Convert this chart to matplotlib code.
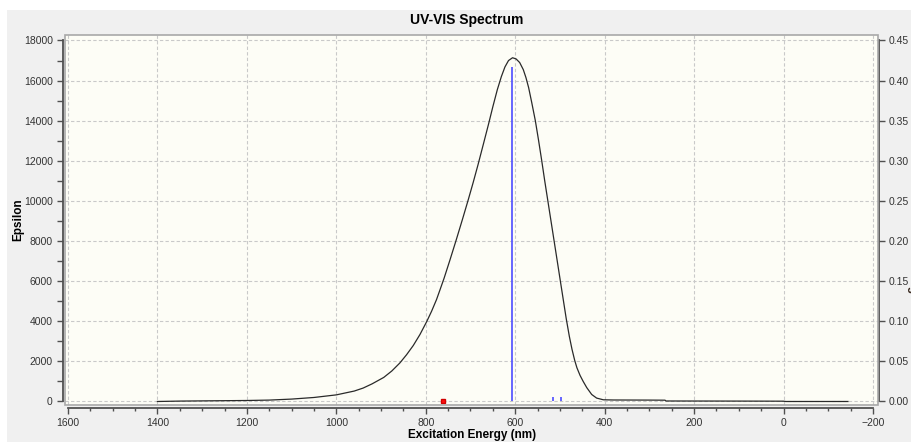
import matplotlib
matplotlib.use("Agg")
import matplotlib.pyplot as plt
from matplotlib.patches import Rectangle
from matplotlib.ticker import MultipleLocator, FormatStrFormatter

plt.rcParams['font.family'] = ['Liberation Sans Narrow', 'Liberation Sans', 'DejaVu Sans']

# spectrum (wavelength nm, epsilon)
wavelength = [1400, 1350, 1300, 1250, 1200, 1150, 1100, 1050, 1000, 960, 940, 920,
              894, 876, 858, 843, 828, 813, 798, 787, 776, 768, 759, 746, 732, 718,
              705, 694, 683, 671, 660, 650, 640, 631, 623, 615, 606, 598, 590, 582,
              576, 570, 563, 555, 548, 541, 534, 527, 520, 513, 506, 500, 493, 486,
              479, 473, 467, 462, 455, 448, 440, 429, 418, 403, 380, 300, 265, 263,
              100, 0, -5, -144]
epsilon = [0, 20, 30, 40, 50, 70, 120, 200, 330, 520, 670, 880,
           1200, 1520, 1920, 2330, 2790, 3340, 3980, 4500, 5080, 5580, 6150, 7050, 8050, 9080,
           10060, 10920, 11820, 12850, 13800, 14700, 15550, 16200, 16680, 17000, 17140, 17080, 16900, 16550,
           16150, 15650, 14900, 14000, 13050, 12050, 11000, 10000, 9000, 8000, 7000, 6140, 5140, 4140,
           3250, 2600, 2050, 1680, 1300, 1000, 690, 350, 170, 85, 75, 70, 65, 25,
           20, 15, 0, 0]

# excited states (wavelength nm, oscillator strength)
stick_nm = [607, 515, 498, 697]
stick_f = [0.417, 0.006, 0.005, 0.001]
selected_nm = [762]
selected_f = [0.0]

fig = plt.figure(figsize=(9.12, 4.42), dpi=100, facecolor='white')
fig.add_artist(Rectangle((7/912, 0), 1, 1 - 10/442, transform=fig.transFigure,
                         facecolor='#f0f0f0', edgecolor='none', zorder=-10))

ax = fig.add_axes([65/912, 37/442, 813/912, 370/442])
ax.set_facecolor('#fdfdf6')
ax.set_xlim(1606.7, -211.2)
ax.set_ylim(-175, 18274)

ax.plot(wavelength, epsilon, color='#2a2a2a', lw=0.9, zorder=3)

ax.xaxis.set_major_locator(MultipleLocator(200))
ax.xaxis.set_minor_locator(MultipleLocator(50))
ax.yaxis.set_major_locator(MultipleLocator(2000))
ax.yaxis.set_minor_locator(MultipleLocator(1000))
ax.grid(True, which='major', color='#c9c9c9', lw=0.8, linestyle=(0, (3, 2)))

for s in ['top', 'right']:
    ax.spines[s].set_visible(False)
ax.spines['left'].set_position(('outward', 1.5))
ax.spines['left'].set_bounds(0, 18000)
ax.spines['bottom'].set_position(('outward', 2.5))
ax.spines['bottom'].set_bounds(-200, 1600)
for s in ['left', 'bottom']:
    ax.spines[s].set_color('#505050')
    ax.spines[s].set_linewidth(1.3)

ax.tick_params(axis='y', which='both', direction='out', length=4.3, width=1,
               color='#505050', labelsize=7.5, labelcolor='#333333', pad=3)
ax.tick_params(axis='x', which='major', direction='out', length=4.5, width=1,
               color='#505050', labelsize=7.5, labelcolor='#333333', pad=2)
ax.tick_params(axis='x', which='minor', direction='out', length=2.5, width=1,
               color='#505050')

ax2 = ax.twinx()
ax2.set_ylim(-175/40000, 18274/40000)
ax2.vlines(stick_nm, 0, stick_f, color='#5a5aff', lw=1.3, zorder=4)
ax2.plot(selected_nm, selected_f, 's', color='#ff1010', mec='#d00000', ms=3.2, zorder=5,
         clip_on=False)
for s in ['top', 'left', 'bottom']:
    ax2.spines[s].set_visible(False)
ax2.spines['right'].set_position(('outward', 0.8))
ax2.spines['right'].set_bounds(0, 0.45)
ax2.spines['right'].set_color('#505050')
ax2.spines['right'].set_linewidth(1.3)
ax2.yaxis.set_major_locator(MultipleLocator(0.05))
ax2.yaxis.set_major_formatter(FormatStrFormatter('%.2f'))
ax2.tick_params(axis='y', direction='out', length=4.5, width=1, color='#505050',
                labelsize=7.5, labelcolor='#333333', pad=2)

# plot box frame
ax2.add_patch(Rectangle((0, 0), 1, 1, transform=ax2.transAxes, fill=False,
                        edgecolor='#a8a8a8', lw=1.2, zorder=6, clip_on=False))

fig.text(467/912, 1 - 20/442, 'UV-VIS Spectrum', ha='center', va='center',
         fontsize=10, fontweight='bold', family=['Liberation Sans', 'DejaVu Sans'])
fig.text(18/912, 1 - 220/442, 'Epsilon', ha='center', va='center', rotation=90,
         fontsize=8.5, fontweight='bold', family=['Liberation Sans', 'DejaVu Sans'])
fig.text(472/912, 1 - 435/442, 'Excitation Energy (nm)', ha='center', va='center',
         fontsize=8.5, fontweight='bold', family=['Liberation Sans', 'DejaVu Sans'])
# right-hand label sits mostly past the figure edge, as in the original
fig.text(907/912, 1 - 251/442, 'Oscillator Strength', ha='left', va='center', rotation=270,
         fontsize=8.5, fontweight='bold', color='#3a2a20',
         family=['Liberation Sans', 'DejaVu Sans'])

fig.savefig('out.png', dpi=100, facecolor=fig.get_facecolor())
